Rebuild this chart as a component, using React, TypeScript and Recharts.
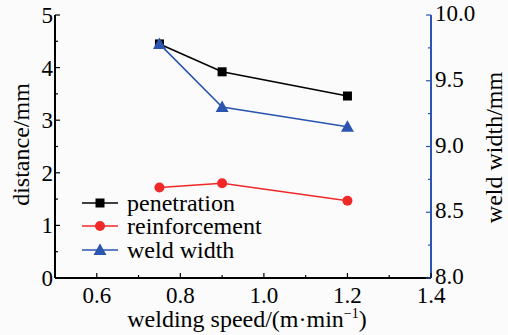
import React from 'react';
import { LineChart, Line, XAxis, YAxis } from 'recharts';

const speed = [0.75, 0.9, 1.2];
const penetration = [4.45, 3.92, 3.46];
const reinforcement = [1.72, 1.8, 1.47];
const weldWidth = [9.78, 9.3, 9.15];

const xTicks = [0.6, 0.7, 0.8, 0.9, 1.0, 1.1, 1.2, 1.3, 1.4];
const leftTicks = [0, 0.5, 1, 1.5, 2, 2.5, 3, 3.5, 4, 4.5, 5];
const rightTicks = [8, 8.25, 8.5, 8.75, 9, 9.25, 9.5, 9.75, 10];

const data = speed.map((s, i) => ({
  speed: s,
  penetration: penetration[i],
  reinforcement: reinforcement[i],
  weldWidth: weldWidth[i],
}));

const FONT = '"Liberation Serif", serif';
const BLACK = '#000000';
const RED = '#f02828';
const BLUE = '#2b55b0';
const tickTxt = { fontFamily: FONT, fontSize: 23 };
const titleTxt = { fontFamily: FONT, fontSize: 24 };

const isMajor = (v: number, step: number) => Math.abs(v / step - Math.round(v / step)) < 1e-6;

const XTick = ({ x, y, payload }: any) => {
  const v = payload.value;
  const major = isMajor(v, 0.2);
  return (
    <g>
      <line x1={x} x2={x} y1={y} y2={y - (major ? 5 : 3)} stroke={BLACK} strokeWidth={1.2} />
      {major && (
        <text x={x} y={y + 25} textAnchor="middle" style={tickTxt} fill={BLACK}>
          {v.toFixed(1)}
        </text>
      )}
    </g>
  );
};

const LeftTick = ({ x, y, payload }: any) => {
  const v = payload.value;
  const major = isMajor(v, 1);
  return (
    <g>
      <line x1={x} x2={x + (major ? 5 : 3)} y1={y} y2={y} stroke={BLACK} strokeWidth={1.2} />
      {major && (
        <text x={x - 2} y={y + 8} textAnchor="end" style={tickTxt} fill={BLACK}>
          {v}
        </text>
      )}
    </g>
  );
};

const RightTick = ({ x, y, payload }: any) => {
  const v = payload.value;
  const major = isMajor(v, 0.5);
  return (
    <g>
      <line x1={x} x2={x - (major ? 5 : 3)} y1={y} y2={y} stroke={BLUE} strokeWidth={1.2} />
      {major && (
        <text x={x + 4} y={y + 6} textAnchor="start" style={tickTxt} fill={BLACK}>
          {v.toFixed(1)}
        </text>
      )}
    </g>
  );
};

const Square = ({ cx, cy, color }: any) => (
  <rect x={cx - 4.5} y={cy - 4.5} width={9} height={9} fill={color} />
);
const Circle = ({ cx, cy, color }: any) => <circle cx={cx} cy={cy} r={5} fill={color} />;
const Triangle = ({ cx, cy, color }: any) => (
  <polygon points={`${cx},${cy - 6.5} ${cx - 6.5},${cy + 5} ${cx + 6.5},${cy + 5}`} fill={color} />
);

const series = [
  { key: 'penetration', name: 'penetration', color: BLACK, Marker: Square, axis: 'left' },
  { key: 'reinforcement', name: 'reinforcement', color: RED, Marker: Circle, axis: 'left' },
  { key: 'weldWidth', name: 'weld width', color: BLUE, Marker: Triangle, axis: 'right' },
];

const LegendBox = () => (
  <div style={{ position: 'absolute', left: 81, top: 191, fontFamily: FONT, fontSize: 24, color: BLACK }}>
    {series.map((s) => (
      <div key={s.key} style={{ display: 'flex', alignItems: 'center', height: 23.5 }}>
        <svg width={40} height={24} style={{ marginRight: 6 }}>
          <line x1={1} x2={37} y1={12} y2={12} stroke={s.color} strokeWidth={1.6} />
          <s.Marker cx={19} cy={12} color={s.color} />
        </svg>
        <span style={{ lineHeight: '24px' }}>{s.name}</span>
      </div>
    ))}
  </div>
);

const LeftTitle = ({ viewBox }: any) => {
  const cx = viewBox.x + 29;
  const cy = viewBox.y + viewBox.height / 2 - 2;
  return (
    <text x={cx} y={cy} transform={`rotate(-90 ${cx} ${cy})`} textAnchor="middle" style={titleTxt} fill={BLACK}>
      distance/mm
    </text>
  );
};

const RightTitle = ({ viewBox }: any) => {
  const cx = viewBox.x + 71;
  const cy = viewBox.y + viewBox.height / 2 + 1;
  return (
    <text x={cx} y={cy} transform={`rotate(-90 ${cx} ${cy})`} textAnchor="middle" style={titleTxt} fill={BLACK}>
      weld width/mm
    </text>
  );
};

const BottomTitle = ({ viewBox }: any) => (
  <text x={viewBox.x + viewBox.width / 2 + 4} y={viewBox.y + 49} textAnchor="middle" style={titleTxt} fill={BLACK}>
    welding speed/(m·min
    <tspan dy={-9} style={{ fontSize: 14 }}>−1</tspan>
    <tspan dy={9}>)</tspan>
  </text>
);

export default function App() {
  return (
    <div style={{ position: 'absolute', left: 0, top: 0, width: 508, height: 335, background: '#fbfbfb' }}>
      <LineChart width={508} height={335} data={data} margin={{ top: 15, right: 0, bottom: 0, left: 0 }}>
        <XAxis
          dataKey="speed"
          type="number"
          domain={[0.5, 1.4]}
          ticks={xTicks}
          interval={0}
          height={57}
          axisLine={{ stroke: BLACK, strokeWidth: 2 }}
          tickLine={false}
          tickSize={0}
          tickMargin={0}
          tick={<XTick />}
          label={<BottomTitle />}
        />
        <XAxis
          xAxisId="top"
          orientation="top"
          dataKey="speed"
          type="number"
          domain={[0.5, 1.4]}
          height={0}
          tick={false}
          tickLine={false}
          axisLine={{ stroke: BLACK, strokeWidth: 2 }}
        />
        <YAxis
          yAxisId="left"
          domain={[0, 5]}
          ticks={leftTicks}
          interval={0}
          width={55}
          axisLine={{ stroke: BLACK, strokeWidth: 2 }}
          tickLine={false}
          tickSize={0}
          tickMargin={0}
          tick={<LeftTick />}
          label={<LeftTitle />}
        />
        <YAxis
          yAxisId="right"
          orientation="right"
          domain={[8, 10]}
          ticks={rightTicks}
          interval={0}
          width={77}
          axisLine={{ stroke: BLUE, strokeWidth: 2 }}
          tickLine={false}
          tickSize={0}
          tickMargin={0}
          tick={<RightTick />}
          label={<RightTitle />}
        />
        {series.map((s) => (
          <Line
            key={s.key}
            yAxisId={s.axis}
            dataKey={s.key}
            name={s.name}
            stroke={s.color}
            strokeWidth={1.6}
            isAnimationActive={false}
            dot={(p: any) => <s.Marker key={`${s.key}-${p.index}`} cx={p.cx} cy={p.cy} color={s.color} />}
            activeDot={false}
          />
        ))}
      </LineChart>
      <LegendBox />
    </div>
  );
}
